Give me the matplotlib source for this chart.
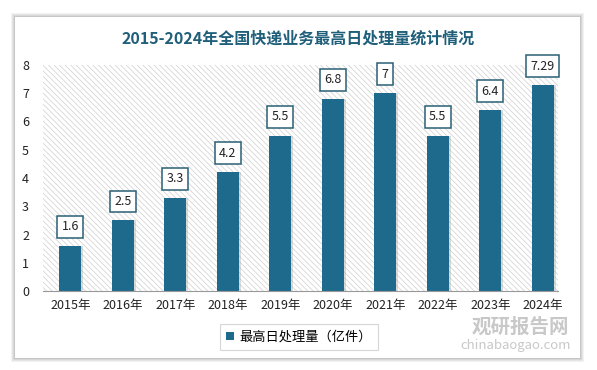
import numpy as np
import matplotlib.pyplot as plt
from matplotlib.patches import Rectangle

plt.rcParams['font.family'] = ['Noto Sans CJK SC', 'DejaVu Sans']
plt.rcParams['hatch.color'] = '#cfcfcf'
plt.rcParams['hatch.linewidth'] = 0.5

# data
years = ['2015年', '2016年', '2017年', '2018年', '2019年',
         '2020年', '2021年', '2022年', '2023年', '2024年']
values = [1.6, 2.5, 3.3, 4.2, 5.5, 6.8, 7, 5.5, 6.4, 7.29]
value_labels = ['1.6', '2.5', '3.3', '4.2', '5.5', '6.8', '7', '5.5', '6.4', '7.29']

bar_color = '#1d6a8c'
title_color = '#1f5f7a'

fig = plt.figure(figsize=(5.97, 3.70), dpi=100)
fig.patch.set_facecolor('white')

# card with soft shadow
for i, a in enumerate([0.05, 0.05, 0.06, 0.08]):
    d = (4 - i) / 597
    fig.patches.append(Rectangle((15/597 - d, 12/370 - d*1.6), 565/597 + 2*d, 341/370 + 2*d*1.6,
                                 transform=fig.transFigure, facecolor='black', alpha=a,
                                 edgecolor='none', zorder=-3))
fig.patches.append(Rectangle((15/597, 12/370), 565/597, 341/370, transform=fig.transFigure,
                             facecolor='white', edgecolor='none', zorder=-2))

ax = fig.add_axes([43/597, 1 - 291/370, 515/597, 226/370])
ax.set_zorder(2)
ax.set_facecolor('white')
ax.add_patch(Rectangle((0, 0), 1, 1, transform=ax.transAxes, facecolor='white',
                       hatch='\\\\\\\\\\\\', edgecolor='#cfcfcf', linewidth=0, zorder=0))

x = np.arange(len(years))
# bar shadows
ax.bar(x + 0.04, values, width=0.42, color='#9a9a9a', alpha=0.35, zorder=1)
ax.bar(x, values, width=0.42, color=bar_color, zorder=2, label='最高日处理量（亿件）')

for xi, v, lab in zip(x, values, value_labels):
    ax.annotate(lab, (xi, v), xytext=(0, 9), textcoords='offset points',
                ha='center', va='bottom', fontsize=9, color='#222222', zorder=4,
                bbox=dict(boxstyle='square,pad=0.35', facecolor='white',
                          edgecolor='#2a5f74', linewidth=1.1))

ax.set_xlim(-0.52, 9.29)
ax.set_ylim(0, 8)
ax.set_yticks(range(0, 9))
ax.set_xticks(x)
ax.set_xticklabels(years)
ax.tick_params(axis='both', length=0, labelsize=9, colors='#222222')
ax.tick_params(axis='y', pad=10)
ax.tick_params(axis='x', pad=6)
for s in ['top', 'right', 'left']:
    ax.spines[s].set_visible(False)
ax.spines['bottom'].set_color('#999999')
ax.spines['bottom'].set_linewidth(0.8)

fig.text(0.5, 1 - 39/370, '2015-2024年全国快递业务最高日处理量统计情况', ha='center', va='center',
         fontsize=11.5, fontweight='bold', color=title_color)

leg = fig.legend(loc='center', bbox_to_anchor=(299/597, 1 - 337/370), fontsize=9.5,
                 handlelength=0.6, handleheight=0.6, handletextpad=0.4,
                 frameon=True, fancybox=False, edgecolor='#cccccc', borderpad=0.5)
leg.get_frame().set_linewidth(0.8)

# watermark
fig.text(520/597, 1 - 327/370, '观研报告网', ha='center', va='center', fontsize=14,
         fontweight='bold', color='#c8c8c8', zorder=1)
fig.text(516/597, 1 - 345/370, 'chinabaogao.com', ha='center', va='center', fontsize=9.5,
         color='#c8c8c8', zorder=1)

fig.savefig('out.png', dpi=100)
